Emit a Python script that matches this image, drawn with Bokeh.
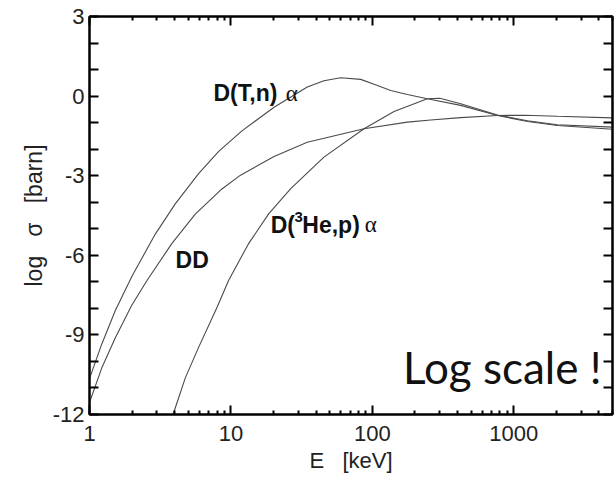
from bokeh.plotting import figure
from bokeh.models import FixedTicker, LogAxis, LinearAxis, Label, ColumnDataSource
from bokeh.embed import file_html
from bokeh.resources import INLINE

# ---- data ----
dt_E = [1.0, 1.22, 1.52, 2.0, 2.92, 4.04, 5.91, 8.2, 11.97, 20.2, 34.7, 45.5, 59.7, 82.8, 103, 135, 177, 245, 422, 768, 1253, 2040, 5000]
dt_s = [-10.65, -9.35, -8.09, -6.78, -5.2, -4.06, -2.92, -2.08, -1.31, -0.42, 0.34, 0.58, 0.69, 0.63, 0.45, 0.21, 0.06, -0.1, -0.35, -0.73, -0.96, -1.11, -1.25]

dd_E = [1.0, 1.22, 1.52, 1.99, 2.55, 3.83, 5.6, 8.64, 11.7, 20.2, 34.7, 87.4, 177, 259, 422, 768, 1200, 2040, 5000]
dd_s = [-11.55, -10.25, -9.12, -7.88, -6.95, -5.55, -4.45, -3.5, -2.98, -2.28, -1.74, -1.23, -0.98, -0.9, -0.81, -0.73, -0.72, -0.76, -0.82]

dhe_E = [3.9, 4.76, 5.91, 8.0, 9.63, 13.3, 18.5, 26.5, 45.5, 87.4, 142.5, 245, 300, 422, 768, 1253, 2040, 5000]
dhe_s = [-12.0, -10.62, -9.47, -7.95, -6.95, -5.57, -4.44, -3.49, -2.3, -1.23, -0.58, -0.1, -0.08, -0.29, -0.71, -0.93, -1.08, -1.17]

x_tick_values = [1, 10, 100, 1000]
x_tick_labels = ["1", "10", "100", "1000"]
y_tick_values = list(range(-12, 4))
y_tick_labels = ["-12", "", "", "-9", "", "", "-6", "", "", "-3", "", "", "0", "", "", "3"]

X_LO, X_HI = 1, 5000
Y_LO, Y_HI = -12, 3

x_minor = [m * 10 ** d for d in range(4) for m in range(2, 10) if m * 10 ** d <= X_HI]

p = figure(width=615, height=484, x_axis_type="log", x_range=(X_LO, X_HI), y_range=(Y_LO, Y_HI),
           output_backend="svg", toolbar_location=None,
           min_border_left=89, min_border_right=3, min_border_top=16, min_border_bottom=70)
p.grid.visible = False
p.outline_line_color = "black"
p.outline_line_width = 2

curve_color = "#4a4a4a"
for E, s in ((dt_E, dt_s), (dd_E, dd_s), (dhe_E, dhe_s)):
    src = ColumnDataSource(dict(E=E, s=s))
    p.line("E", "s", source=src, line_color=curve_color, line_width=1.1)

TICK_FONT = "Liberation Sans"

def style_axis(ax):
    ax.axis_line_width = 2
    ax.axis_line_color = "black"
    ax.major_tick_in = 9
    ax.major_tick_out = 0
    ax.minor_tick_in = 4
    ax.minor_tick_out = 0
    ax.major_tick_line_width = 2
    ax.minor_tick_line_width = 2
    ax.major_tick_line_color = "black"
    ax.minor_tick_line_color = "black"

xa = p.xaxis[0]
xa.ticker = FixedTicker(ticks=x_tick_values, minor_ticks=x_minor)
style_axis(xa)
xa.major_label_overrides = {v: l for v, l in zip(x_tick_values, x_tick_labels)}
xa.major_label_text_font = TICK_FONT
xa.major_label_text_font_size = "22px"
xa.major_label_text_color = "#222222"
xa.major_label_standoff = 11
xa.axis_label = "E\u00a0\u00a0\u00a0[keV]"
xa.axis_label_text_font = TICK_FONT
xa.axis_label_text_font_size = "22px"
xa.axis_label_text_font_style = "normal"
xa.axis_label_text_color = "#222222"
xa.axis_label_standoff = 4

ya = p.yaxis[0]
ya.ticker = FixedTicker(ticks=y_tick_values)
style_axis(ya)
ya.major_label_overrides = {v: l for v, l in zip(y_tick_values, y_tick_labels)}
ya.major_label_text_font = TICK_FONT
ya.major_label_text_font_size = "22px"
ya.major_label_text_color = "#222222"
ya.major_label_standoff = 5
ya.axis_label = "log\u00a0\u00a0\u00a0σ\u00a0\u00a0\u00a0[barn]"
ya.axis_label_text_font = TICK_FONT
ya.axis_label_text_font_size = "23px"
ya.axis_label_text_font_style = "normal"
ya.axis_label_text_color = "#222222"
ya.axis_label_standoff = 3

# mirrored axes (top / right) with inward ticks and no labels
top = LogAxis(ticker=FixedTicker(ticks=x_tick_values, minor_ticks=x_minor))
style_axis(top)
top.major_label_standoff = 0
top.major_label_overrides = {v: "" for v in x_tick_values}
p.add_layout(top, "above")

right = LinearAxis(ticker=FixedTicker(ticks=y_tick_values))
style_axis(right)
right.major_label_standoff = 0
right.major_label_overrides = {v: "" for v in y_tick_values}
p.add_layout(right, "right")

def lab(x, y, text, size="23px", font="Liberation Sans", style="bold", **kw):
    p.add_layout(Label(x=x, y=y, text=text, text_font=font, text_font_size=size,
                       text_font_style=style, text_color="#111111",
                       text_baseline="alphabetic", **kw))

# D(T,n)α
lab(7.53, 0.11, "D(T,n)")
lab(24.4, 0.11, "α", font="Liberation Serif", style="normal")
# DD
lab(4.06, -6.17, "DD")
# D(3He,p)α
lab(19.1, -4.85, "D(")
lab(28.2, -4.55, "3", size="15px")
lab(32.0, -4.85, "He,p)")
lab(88.3, -4.85, "α", font="Liberation Serif", style="normal")

# Log scale !
lab(830, -10.2, "Log scale !", size="44px", font="Lato", style="normal",
    text_align="center")

open("out.html", "w").write(file_html(p, INLINE))
